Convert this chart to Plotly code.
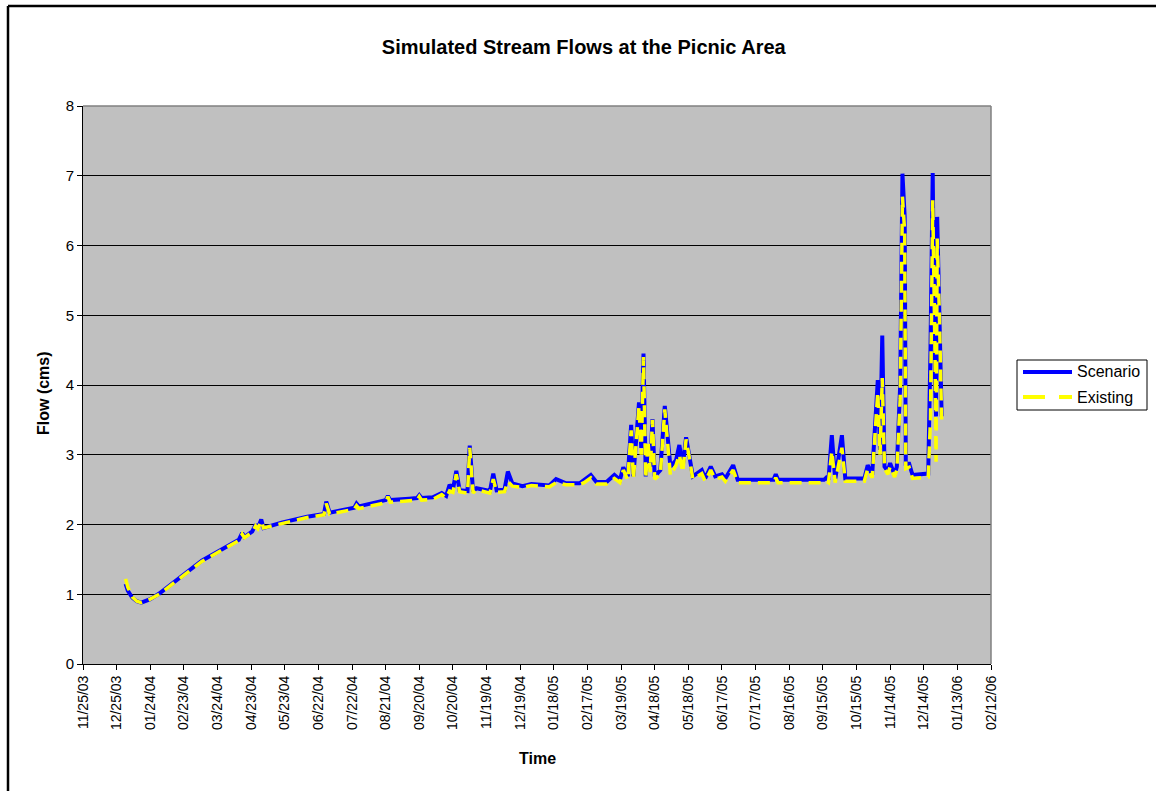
import plotly.graph_objects as go

# Daily stream flow (cms) at the picnic area, key days of the record
dates = [
    "2004-01-02", "2004-01-04", "2004-01-08", "2004-01-12", "2004-01-16", "2004-01-24",
    "2004-02-01", "2004-02-19", "2004-03-10", "2004-04-01", "2004-04-12", "2004-04-15",
    "2004-04-17", "2004-04-24", "2004-04-27", "2004-04-29", "2004-05-02", "2004-05-04",
    "2004-05-21", "2004-06-12", "2004-06-27", "2004-06-29", "2004-07-02", "2004-07-24",
    "2004-07-26", "2004-07-28", "2004-08-21", "2004-08-23", "2004-08-25", "2004-09-11",
    "2004-09-18", "2004-09-20", "2004-09-22", "2004-10-02", "2004-10-10", "2004-10-14",
    "2004-10-17", "2004-10-20", "2004-10-23", "2004-10-26", "2004-11-02", "2004-11-04",
    "2004-11-07", "2004-11-10", "2004-11-22", "2004-11-25", "2004-11-28", "2004-12-05",
    "2004-12-08", "2004-12-12", "2004-12-21", "2004-12-29", "2005-01-14", "2005-01-20",
    "2005-01-29", "2005-02-10", "2005-02-14", "2005-02-20", "2005-02-25", "2005-03-06",
    "2005-03-13", "2005-03-18", "2005-03-21", "2005-03-25", "2005-03-28", "2005-03-30",
    "2005-04-04", "2005-04-06", "2005-04-08", "2005-04-10", "2005-04-12", "2005-04-14",
    "2005-04-16", "2005-04-18", "2005-04-23", "2005-04-27", "2005-05-02", "2005-05-07",
    "2005-05-10", "2005-05-13", "2005-05-16", "2005-05-19", "2005-05-22", "2005-05-30",
    "2005-06-02", "2005-06-07", "2005-06-11", "2005-06-17", "2005-06-20", "2005-06-27",
    "2005-07-01", "2005-08-02", "2005-08-04", "2005-08-06", "2005-09-16", "2005-09-18",
    "2005-09-20", "2005-09-23", "2005-09-26", "2005-10-02", "2005-10-05", "2005-10-22",
    "2005-10-25", "2005-10-29", "2005-11-03", "2005-11-05", "2005-11-07", "2005-11-09",
    "2005-11-12", "2005-11-14", "2005-11-18", "2005-11-20", "2005-11-23", "2005-11-25",
    "2005-11-27", "2005-11-28", "2005-12-01", "2005-12-04", "2005-12-18", "2005-12-20",
    "2005-12-22", "2005-12-24", "2005-12-25", "2005-12-26", "2005-12-28", "2005-12-30",
]

scenario = [
    1.15, 1.05, 0.95, 0.90, 0.88, 0.93,
    1.01, 1.23, 1.48, 1.68, 1.78, 1.88,
    1.82, 1.90, 2.00, 1.95, 2.07, 1.95,
    2.03, 2.11, 2.15, 2.33, 2.17, 2.24,
    2.30, 2.26, 2.35, 2.41, 2.35, 2.37,
    2.38, 2.42, 2.38, 2.39, 2.45, 2.41,
    2.57, 2.50, 2.77, 2.49, 2.48, 3.13,
    2.47, 2.52, 2.48, 2.73, 2.49, 2.50,
    2.76, 2.59, 2.55, 2.58, 2.56, 2.65,
    2.59, 2.59, 2.64, 2.71, 2.61, 2.61,
    2.71, 2.64, 2.82, 2.69, 3.43, 2.69,
    3.75, 3.10, 4.45, 2.69, 3.14, 2.83,
    3.51, 2.69, 2.78, 3.70, 2.83, 2.92,
    3.14, 2.83, 3.25, 3.00, 2.69, 2.78,
    2.66, 2.83, 2.69, 2.72, 2.66, 2.85,
    2.64, 2.64, 2.72, 2.64, 2.64, 2.67,
    2.64, 3.28, 2.64, 3.28, 2.66, 2.66,
    2.85, 2.71, 4.07, 3.07, 4.71, 2.83,
    2.76, 2.88, 2.71, 2.83, 4.00, 7.03,
    6.41, 2.87, 2.87, 2.71, 2.73, 4.50,
    7.04, 4.02, 3.55, 6.41, 4.98, 3.55,
]

existing = [
    1.22, 1.10, 0.96, 0.90, 0.88, 0.93,
    1.00, 1.22, 1.47, 1.67, 1.77, 1.86,
    1.81, 1.89, 1.98, 1.94, 2.05, 1.95,
    2.02, 2.10, 2.14, 2.30, 2.15, 2.22,
    2.27, 2.23, 2.31, 2.40, 2.32, 2.34,
    2.35, 2.40, 2.35, 2.36, 2.43, 2.38,
    2.48, 2.46, 2.72, 2.47, 2.45, 3.10,
    2.45, 2.50, 2.45, 2.65, 2.46, 2.47,
    2.62, 2.55, 2.53, 2.56, 2.54, 2.60,
    2.57, 2.57, 2.60, 2.67, 2.58, 2.58,
    2.66, 2.60, 2.78, 2.64, 3.35, 2.65,
    3.70, 3.00, 4.40, 2.66, 3.20, 2.75,
    3.50, 2.65, 2.72, 3.65, 2.70, 2.85,
    3.00, 2.75, 3.22, 2.95, 2.65, 2.73,
    2.62, 2.78, 2.65, 2.68, 2.62, 2.78,
    2.60, 2.60, 2.67, 2.60, 2.60, 2.62,
    2.60, 3.05, 2.60, 3.10, 2.62, 2.62,
    2.80, 2.67, 3.90, 3.00, 4.10, 2.80,
    2.72, 2.83, 2.68, 2.78, 3.80, 6.70,
    6.20, 2.80, 2.82, 2.66, 2.68, 3.50,
    6.65, 4.50, 2.90, 6.10, 5.00, 3.45,
]

# Category axis ticks every 30 days
tick_dates = [
    "2003-11-25", "2003-12-25", "2004-01-24", "2004-02-23", "2004-03-24", "2004-04-23",
    "2004-05-23", "2004-06-22", "2004-07-22", "2004-08-21", "2004-09-20", "2004-10-20",
    "2004-11-19", "2004-12-19", "2005-01-18", "2005-02-17", "2005-03-19", "2005-04-18",
    "2005-05-18", "2005-06-17", "2005-07-17", "2005-08-16", "2005-09-15", "2005-10-15",
    "2005-11-14", "2005-12-14", "2006-01-13", "2006-02-12",
]
tick_labels = [d[5:7] + "/" + d[8:10] + "/" + d[2:4] for d in tick_dates]

series_names = ["Scenario", "Existing"]
series_colors = ["#0000FF", "#FFFF00"]

FONT = "Liberation Sans, Arial, sans-serif"

# plot-area pixel geometry
L, R, T, B = 83, 991, 106, 664
W, H = R - L, B - T


def px(x):
    return (x - L) / W


def py(y):
    return (B - y) / H


fig = go.Figure()
fig.add_trace(go.Scatter(
    x=dates, y=scenario, name=series_names[0], mode="lines",
    line=dict(color=series_colors[0], width=4),
))
fig.add_trace(go.Scatter(
    x=dates, y=existing, name=series_names[1], mode="lines",
    line=dict(color=series_colors[1], width=3.5, dash="12px,7px"),
))

fig.update_layout(
    width=1156, height=791,
    margin=dict(l=L, r=1156 - R, t=T, b=791 - B),
    paper_bgcolor="white",
    plot_bgcolor="#C0C0C0",
    font=dict(family=FONT, size=15, color="black"),
    title=dict(
        text="<b>Simulated Stream Flows at the Picnic Area</b>",
        x=0.505, xanchor="center", y=1 - 47 / 791, yanchor="middle",
        font=dict(family=FONT, size=20, color="black"),
    ),
    showlegend=False,
    xaxis=dict(
        type="date",
        range=["2003-11-25", "2006-02-12"],
        tickmode="array", tickvals=tick_dates, ticktext=tick_labels,
        tickangle=-90, ticks="outside", ticklen=5, tickcolor="black",
        showgrid=False, showline=True, linecolor="black", linewidth=1,
        zeroline=False,
        tickfont=dict(family=FONT, size=14),
    ),
    yaxis=dict(
        range=[0, 8], tickmode="linear", tick0=0, dtick=1,
        ticks="outside", ticklen=5, tickcolor="black",
        showgrid=True, gridcolor="black", gridwidth=1,
        showline=True, linecolor="black", linewidth=1, zeroline=False,
        tickfont=dict(family=FONT, size=15),
    ),
)

# Axis titles
fig.add_annotation(text="<b>Time</b>", xref="paper", yref="paper",
                   x=px(537), y=py(758), showarrow=False,
                   xanchor="center", yanchor="middle",
                   font=dict(family=FONT, size=16))
fig.add_annotation(text="<b>Flow (cms)</b>", xref="paper", yref="paper",
                   x=px(43), y=py(393), showarrow=False, textangle=-90,
                   xanchor="center", yanchor="middle",
                   font=dict(family=FONT, size=16))

# Gray border on the top and right of the plot area
fig.add_shape(type="line", xref="paper", yref="paper", x0=0, x1=1, y0=1, y1=1,
              line=dict(color="#808080", width=1.5))
fig.add_shape(type="line", xref="paper", yref="paper", x0=1, x1=1, y0=0, y1=1,
              line=dict(color="#808080", width=1.5))

# Chart area frame (top and left edges)
fig.add_shape(type="line", xref="paper", yref="paper",
              x0=px(8), x1=px(1170), y0=py(6), y1=py(6),
              line=dict(color="black", width=2.5), layer="above")
fig.add_shape(type="line", xref="paper", yref="paper",
              x0=px(8), x1=px(8), y0=py(6), y1=py(800),
              line=dict(color="black", width=2.5), layer="above")

# Legend box with line samples
fig.add_shape(type="rect", xref="paper", yref="paper",
              x0=px(1017), x1=px(1147), y0=py(360), y1=py(410),
              line=dict(color="black", width=1), fillcolor="white")
legend_rows = [372, 397]
legend_dash = ["solid", "22px,14px"]
for name, color, row, dash in zip(series_names, series_colors, legend_rows, legend_dash):
    fig.add_shape(type="line", xref="paper", yref="paper",
                  x0=px(1023), x1=px(1072), y0=py(row), y1=py(row),
                  line=dict(color=color, width=4, dash=dash))
    fig.add_annotation(text=name, xref="paper", yref="paper",
                       x=px(1075), y=py(row), showarrow=False,
                       xanchor="left", yanchor="middle",
                       font=dict(family=FONT, size=16))

fig.write_html("out.html")
